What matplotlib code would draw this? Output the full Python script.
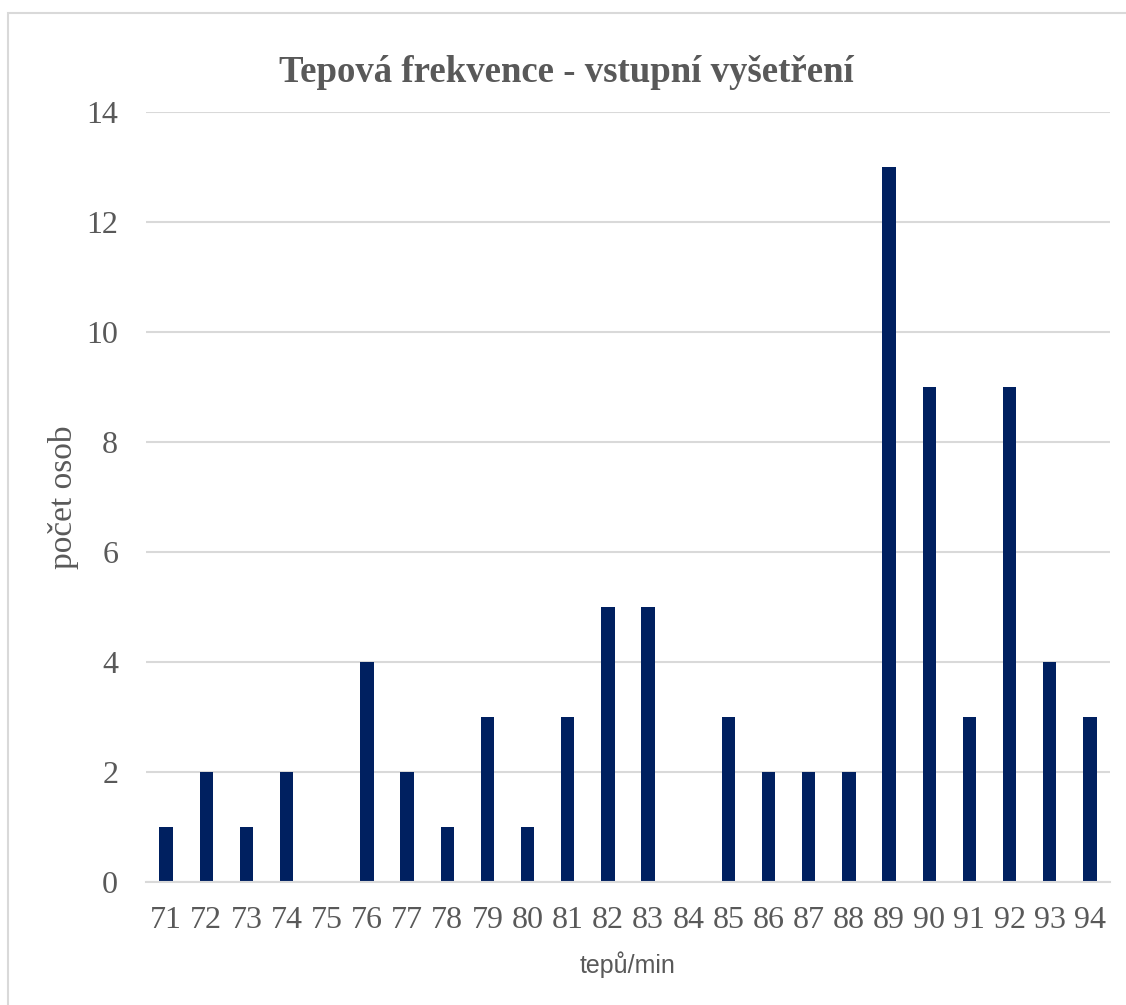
import matplotlib.pyplot as plt
from matplotlib.patches import Rectangle

# Data
tepy = [71, 72, 73, 74, 75, 76, 77, 78, 79, 80, 81, 82,
        83, 84, 85, 86, 87, 88, 89, 90, 91, 92, 93, 94]
pocet = [1, 2, 1, 2, 0, 4, 2, 1, 3, 1, 3, 5,
         5, 0, 3, 2, 2, 2, 13, 9, 3, 9, 4, 3]
y_ticks = [0, 2, 4, 6, 8, 10, 12, 14]

grey_text = "#595959"
grid_col = "#d9d9d9"
bar_col = "#002060"

fig = plt.figure(figsize=(11.26, 10.05), dpi=100)
ax = fig.add_axes([146 / 1126, 1 - 882 / 1005, (1110 - 146) / 1126, (882 - 112) / 1005])

x = list(range(len(tepy)))
ax.bar(x, pocet, width=0.33, color=bar_col, zorder=3)

ax.set_xlim(-0.5, len(tepy) - 0.5)
ax.set_ylim(0, 14)
ax.set_yticks(y_ticks)
ax.set_xticks(x)
ax.set_xticklabels([str(t) for t in tepy])

ax.grid(axis="y", color=grid_col, linewidth=1.5, zorder=0)
for s in ["top", "right", "left"]:
    ax.spines[s].set_visible(False)
ax.spines["bottom"].set_color(grid_col)
ax.spines["bottom"].set_linewidth(1.5)
ax.spines["bottom"].set_zorder(4)

ax.tick_params(axis="both", length=0, colors=grey_text)
ax.tick_params(axis="y", pad=20)
ax.tick_params(axis="x", pad=17)
for lbl in ax.get_xticklabels() + ax.get_yticklabels():
    lbl.set_fontfamily("Liberation Serif")
    lbl.set_fontsize(23)

ax.set_ylabel("počet osob", family="Liberation Serif", fontsize=24, color=grey_text, labelpad=5)
ax.set_xlabel("tepů/min", family="Liberation Sans", fontsize=18, color=grey_text, labelpad=12)

fig.text(566 / 1126, 1 - 72 / 1005, "Tepová frekvence - vstupní vyšetření",
         ha="center", va="center", family="Liberation Serif", fontweight="bold",
         fontsize=26.5, color=grey_text)

# light frame around the chart area
fig.patches.append(Rectangle((8 / 1126, -0.01), 1.1, 1 - 13 / 1005 + 0.01,
                             transform=fig.transFigure, fill=False,
                             edgecolor=grid_col, linewidth=1.5))

plt.savefig("out.png", dpi=100)
